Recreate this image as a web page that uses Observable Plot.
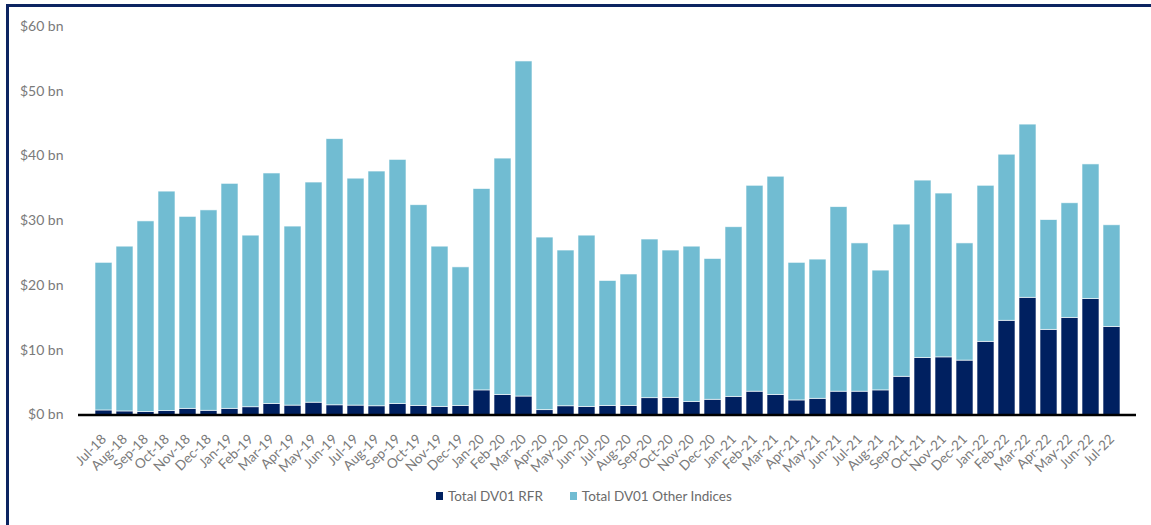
<!DOCTYPE html>
<html>
<head>
<meta charset="utf-8">
<script src="https://cdn.jsdelivr.net/npm/d3@7"></script>
<script src="https://cdn.jsdelivr.net/npm/@observablehq/plot@0.6"></script>
<style>
  html, body { margin: 0; padding: 0; background: #fff; }
  body { width: 1151px; height: 525px; position: relative; overflow: hidden; font-family: Lato, "Open Sans", sans-serif; }
  #frame { position: absolute; left: 6px; top: 4px; width: 1200px; height: 600px; border-left: 3px solid #0c2461; border-top: 3px solid #0c2461; box-sizing: border-box; }
  #chart { position: absolute; left: 0; top: 0; }
  #legend { position: absolute; left: 436px; top: 488px; display: flex; align-items: center; font-size: 13.5px; color: #6b6b6b; }
  .item { display: flex; align-items: center; margin-right: 27px; }
  .sw { width: 7px; height: 8px; margin-right: 5px; }
</style>
</head>
<body>
<div id="frame"></div>
<div id="chart"></div>
<div id="legend"></div>
<script>
const months = ["Jul-18","Aug-18","Sep-18","Oct-18","Nov-18","Dec-18","Jan-19","Feb-19","Mar-19","Apr-19","May-19","Jun-19","Jul-19","Aug-19","Sep-19","Oct-19","Nov-19","Dec-19","Jan-20","Feb-20","Mar-20","Apr-20","May-20","Jun-20","Jul-20","Aug-20","Sep-20","Oct-20","Nov-20","Dec-20","Jan-21","Feb-21","Mar-21","Apr-21","May-21","Jun-21","Jul-21","Aug-21","Sep-21","Oct-21","Nov-21","Dec-21","Jan-22","Feb-22","Mar-22","Apr-22","May-22","Jun-22","Jul-22"];

const rfr = [0.7,0.55,0.45,0.6,0.95,0.65,0.95,1.2,1.7,1.45,1.9,1.5,1.45,1.35,1.7,1.4,1.25,1.4,3.8,3.1,2.85,0.75,1.35,1.25,1.4,1.4,2.6,2.65,2.0,2.35,2.8,3.6,3.1,2.25,2.5,3.6,3.6,3.8,5.9,8.8,8.9,8.4,11.3,14.55,18.1,13.15,15.0,17.9,13.6];

const otherIndices = [22.8,25.45,29.45,33.9,29.65,30.95,34.75,26.5,35.6,27.65,34.0,41.1,35.05,36.25,37.7,31.0,24.75,21.4,31.1,36.5,51.75,26.65,24.05,26.45,19.3,20.3,24.5,22.75,24.0,21.75,26.2,31.8,33.7,21.25,21.5,28.5,22.9,18.5,23.5,27.4,25.3,18.1,24.1,25.65,26.75,16.95,17.7,20.8,15.7];

const seriesNames = ["Total DV01 RFR", "Total DV01 Other Indices"];
const seriesColors = ["#002060", "#71bcd2"];
const yTicks = [0,10,20,30,40,50,60];

const data = [];
months.forEach((m, i) => {
  data.push({month: m, series: seriesNames[0], value: rfr[i]});
  data.push({month: m, series: seriesNames[1], value: otherIndices[i]});
});

const chart = Plot.plot({
  width: 1151,
  height: 480,
  marginLeft: 78,
  marginRight: 15,
  marginTop: 26,
  marginBottom: 65.5,
  style: {fontFamily: "Lato, 'Open Sans', sans-serif", background: "transparent"},
  x: {domain: months, paddingInner: 0.2, paddingOuter: 0.1, label: null},
  y: {domain: [0, 60], label: null},
  color: {domain: seriesNames, range: seriesColors},
  marks: [
    Plot.barY(data, {x: "month", y: "value", fill: "series", stroke: "white", strokeWidth: 0.8, strokeOpacity: 0.75}),
    Plot.ruleY([0], {stroke: "#000", strokeWidth: 2.5}),
    Plot.axisY({ticks: yTicks, tickSize: 0, tickPadding: 15, tickFormat: d => `$${d} bn`, fontSize: 14, fill: "#7a7a7a", label: null}),
    Plot.axisX({tickSize: 0, tickPadding: 22, tickRotate: -45, fontSize: 13.5, fill: "#7a7a7a", label: null})
  ]
});
document.getElementById("chart").appendChild(chart);

const legend = document.getElementById("legend");
seriesNames.forEach((name, i) => {
  const it = document.createElement("div");
  it.className = "item";
  const sw = document.createElement("span");
  sw.className = "sw";
  sw.style.background = seriesColors[i];
  const tx = document.createElement("span");
  tx.textContent = name;
  it.appendChild(sw);
  it.appendChild(tx);
  legend.appendChild(it);
});
</script>
</body>
</html>
